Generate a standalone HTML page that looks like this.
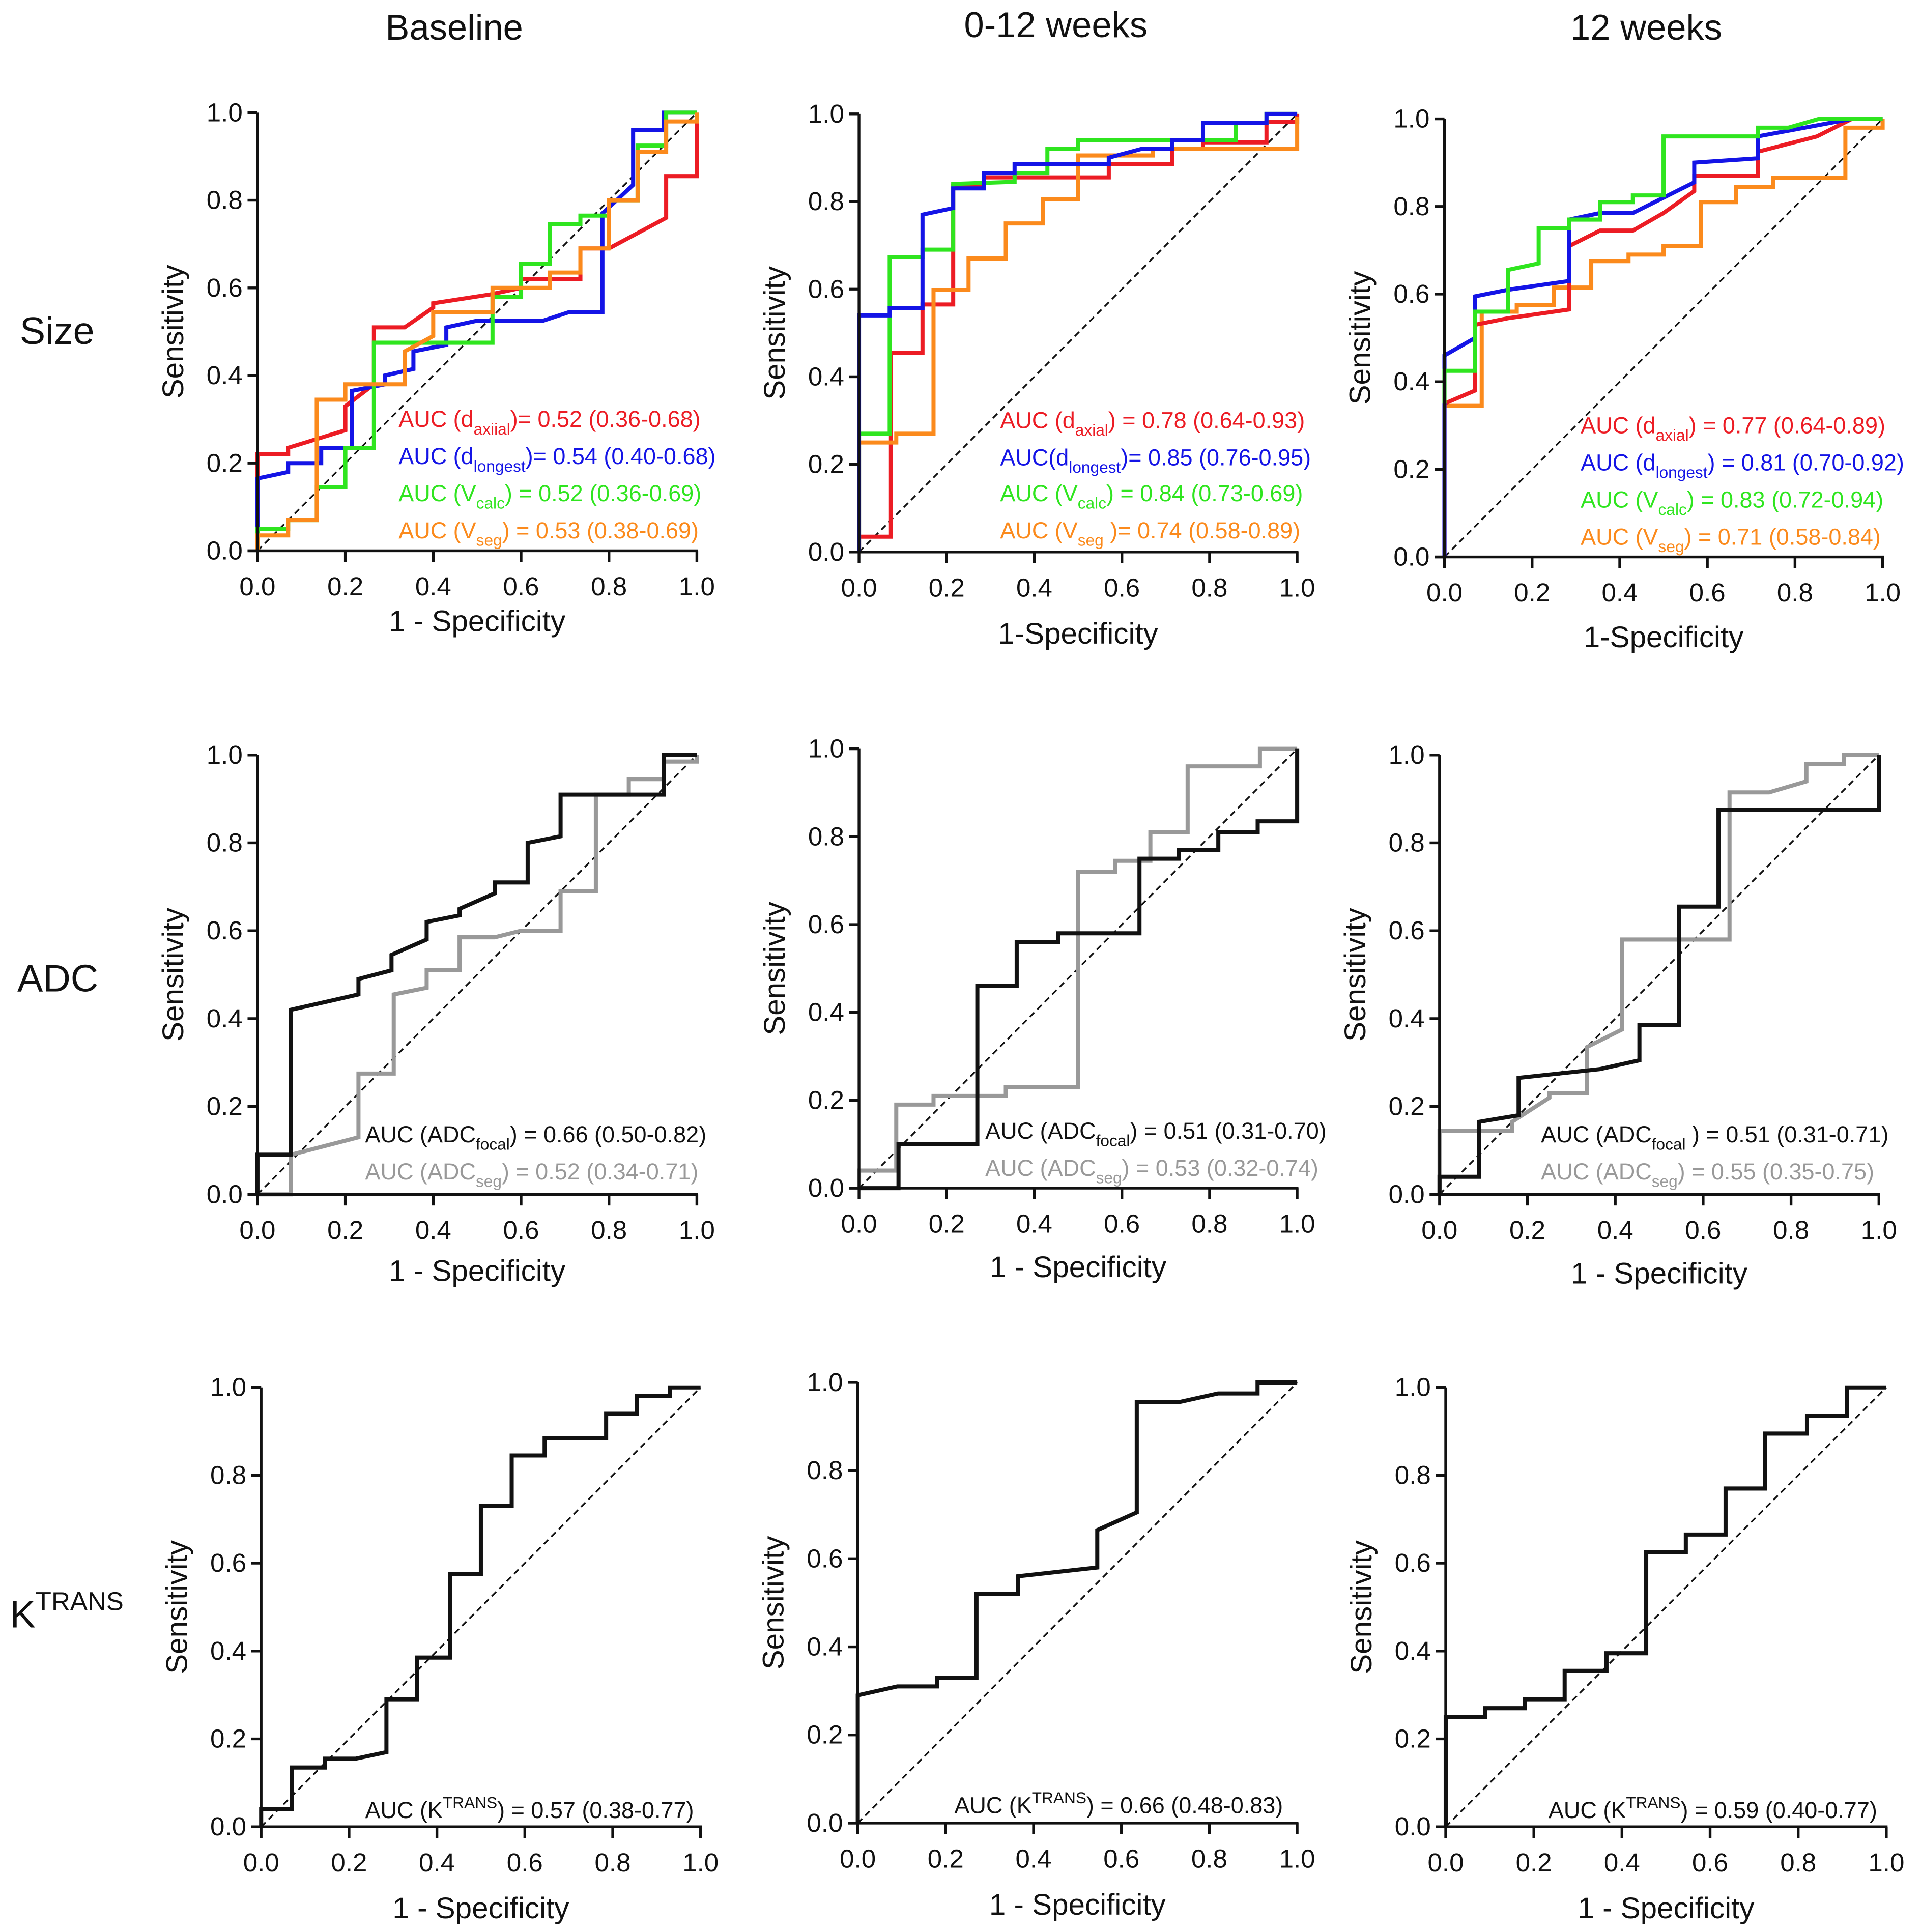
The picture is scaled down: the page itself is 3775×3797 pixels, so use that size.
<!DOCTYPE html>
<html><head><meta charset="utf-8">
<style>
html,body{margin:0;padding:0;background:#fff;}
svg{display:block;}
text{font-family:"Liberation Sans",Arial,sans-serif;fill:#111;}
</style></head>
<body>
<svg id="fig" width="3775" height="3797" viewBox="0 0 1552 1561" xmlns="http://www.w3.org/2000/svg">
<rect width="1552" height="1561" fill="#fff"/>
<text x="367" y="32" font-size="29" text-anchor="middle">Baseline</text>
<text x="853" y="30" font-size="29" text-anchor="middle">0-12 weeks</text>
<text x="1330" y="32" font-size="29" text-anchor="middle">12 weeks</text>
<text x="16" y="278" font-size="31">Size</text>
<text x="14" y="801" font-size="31">ADC</text>
<text x="8" y="1315" font-size="31">K<tspan font-size="21" dy="-14">TRANS</tspan></text>
<g id="panels"></g>
</svg>
<script>
const tickLabels = ["0.0","0.2","0.4","0.6","0.8","1.0"];
const tickValues = [0,0.2,0.4,0.6,0.8,1];

// Row 1: Size
const p11_red_x=[0,0,0.07,0.07,0.2,0.2,0.265,0.265,0.335,0.4,0.4,0.53,0.6,0.6,0.735,0.735,0.8,0.93,0.93,1,1];
const p11_red_y=[0,0.22,0.22,0.235,0.275,0.33,0.38,0.51,0.51,0.555,0.565,0.585,0.6,0.62,0.62,0.69,0.69,0.76,0.855,0.855,1];
const p11_blue_x=[0,0,0.07,0.07,0.145,0.145,0.215,0.215,0.29,0.29,0.355,0.355,0.43,0.43,0.5,0.65,0.71,0.785,0.785,0.855,0.855,0.925,0.925,1];
const p11_blue_y=[0,0.165,0.18,0.2,0.2,0.235,0.235,0.365,0.38,0.4,0.415,0.455,0.47,0.51,0.525,0.525,0.545,0.545,0.77,0.835,0.96,0.96,1,1];
const p11_green_x=[0,0,0.07,0.07,0.135,0.135,0.2,0.2,0.265,0.265,0.535,0.535,0.6,0.6,0.665,0.665,0.735,0.735,0.8,0.8,0.865,0.865,0.93,0.93,1];
const p11_green_y=[0,0.05,0.05,0.07,0.07,0.145,0.145,0.235,0.235,0.475,0.475,0.58,0.58,0.655,0.655,0.745,0.745,0.765,0.765,0.8,0.8,0.925,0.925,1,1];
const p11_orange_x=[0,0,0.07,0.07,0.135,0.135,0.2,0.2,0.335,0.335,0.4,0.4,0.535,0.535,0.665,0.665,0.735,0.735,0.8,0.8,0.865,0.865,0.93,0.93,1,1];
const p11_orange_y=[0,0.035,0.035,0.07,0.07,0.345,0.345,0.38,0.38,0.455,0.49,0.545,0.545,0.6,0.6,0.635,0.635,0.69,0.69,0.8,0.8,0.91,0.91,0.98,0.98,1];

const p12_red_x=[0,0,0.073,0.073,0.145,0.145,0.215,0.215,0.285,0.285,0.57,0.57,0.715,0.715,0.785,0.785,0.93,0.93,1,1];
const p12_red_y=[0,0.035,0.035,0.455,0.455,0.565,0.565,0.835,0.835,0.855,0.855,0.885,0.885,0.92,0.92,0.935,0.935,0.982,0.982,1];
const p12_blue_x=[0,0,0.07,0.07,0.145,0.145,0.215,0.215,0.285,0.285,0.355,0.355,0.57,0.57,0.645,0.715,0.715,0.785,0.785,0.93,0.93,1];
const p12_blue_y=[0,0.54,0.54,0.557,0.557,0.77,0.785,0.83,0.83,0.865,0.865,0.885,0.885,0.9,0.92,0.92,0.94,0.94,0.98,0.98,1,1];
const p12_green_x=[0,0,0.07,0.07,0.145,0.145,0.215,0.215,0.355,0.355,0.43,0.43,0.5,0.5,0.86,0.86,0.93,0.93,1];
const p12_green_y=[0,0.27,0.27,0.673,0.673,0.69,0.69,0.84,0.845,0.865,0.865,0.92,0.92,0.94,0.94,0.98,0.98,1,1];
const p12_orange_x=[0,0,0.085,0.085,0.17,0.17,0.25,0.25,0.335,0.335,0.42,0.42,0.5,0.5,0.67,0.67,1,1];
const p12_orange_y=[0,0.25,0.25,0.27,0.27,0.598,0.598,0.67,0.67,0.75,0.75,0.805,0.805,0.905,0.905,0.92,0.92,0.993];

const p13_red_x=[0,0,0.07,0.07,0.145,0.285,0.285,0.355,0.43,0.5,0.57,0.57,0.715,0.715,0.85,0.93,1];
const p13_red_y=[0,0.35,0.38,0.53,0.545,0.565,0.71,0.745,0.745,0.785,0.835,0.87,0.87,0.925,0.96,1,1];
const p13_blue_x=[0,0,0.07,0.07,0.145,0.285,0.285,0.355,0.43,0.5,0.57,0.57,0.715,0.715,0.85,0.93,1];
const p13_blue_y=[0,0.46,0.5,0.595,0.61,0.63,0.77,0.785,0.785,0.82,0.855,0.9,0.91,0.96,0.985,1,1];
const p13_green_x=[0,0,0.07,0.07,0.145,0.145,0.215,0.215,0.285,0.285,0.355,0.355,0.43,0.43,0.5,0.5,0.715,0.715,0.785,0.855,1];
const p13_green_y=[0.35,0.425,0.425,0.56,0.56,0.655,0.67,0.75,0.75,0.77,0.77,0.81,0.81,0.825,0.825,0.96,0.96,0.98,0.98,1,1];
const p13_orange_x=[0,0,0.085,0.085,0.165,0.165,0.25,0.25,0.335,0.335,0.42,0.42,0.5,0.5,0.585,0.585,0.665,0.665,0.75,0.75,0.915,0.915,1,1];
const p13_orange_y=[0,0.345,0.345,0.56,0.56,0.575,0.575,0.615,0.615,0.675,0.675,0.69,0.69,0.71,0.71,0.81,0.81,0.845,0.845,0.865,0.865,0.98,0.98,1];

// Row 2: ADC
const p21_focal_x=[0,0,0.076,0.076,0.23,0.23,0.305,0.305,0.385,0.385,0.46,0.46,0.54,0.54,0.615,0.615,0.69,0.69,0.925,0.925,1];
const p21_focal_y=[0,0.09,0.09,0.42,0.455,0.49,0.51,0.545,0.58,0.62,0.635,0.65,0.685,0.71,0.71,0.8,0.815,0.91,0.91,1,1];
const p21_seg_x=[0,0.076,0.076,0.23,0.23,0.31,0.31,0.385,0.385,0.46,0.46,0.54,0.6,0.69,0.69,0.77,0.77,0.845,0.845,0.925,0.925,1,1];
const p21_seg_y=[0,0,0.09,0.13,0.275,0.275,0.455,0.47,0.51,0.51,0.585,0.585,0.6,0.6,0.69,0.69,0.91,0.91,0.945,0.945,0.985,0.985,1];
const p22_focal_x=[0,0.09,0.09,0.27,0.27,0.36,0.36,0.455,0.455,0.64,0.64,0.73,0.73,0.82,0.82,0.91,0.91,1,1];
const p22_focal_y=[0,0,0.1,0.1,0.46,0.46,0.56,0.56,0.58,0.58,0.75,0.75,0.77,0.77,0.81,0.81,0.835,0.835,1];
const p22_seg_x=[0,0,0.085,0.085,0.17,0.17,0.335,0.335,0.5,0.5,0.585,0.585,0.665,0.665,0.75,0.75,0.915,0.915,1];
const p22_seg_y=[0,0.04,0.04,0.19,0.19,0.21,0.21,0.23,0.23,0.72,0.72,0.745,0.745,0.81,0.81,0.96,0.96,1,1];
const p23_focal_x=[0,0,0.09,0.09,0.18,0.18,0.365,0.455,0.455,0.545,0.545,0.635,0.635,1,1];
const p23_focal_y=[0,0.04,0.04,0.165,0.18,0.265,0.285,0.305,0.385,0.385,0.655,0.655,0.875,0.875,1];
const p23_seg_x=[0,0,0.165,0.165,0.25,0.25,0.335,0.335,0.415,0.415,0.66,0.66,0.75,0.835,0.835,0.92,0.92,1];
const p23_seg_y=[0,0.145,0.145,0.165,0.22,0.23,0.23,0.335,0.375,0.58,0.58,0.915,0.915,0.94,0.98,0.98,1,1];

// Row 3: KTRANS
const p31_x=[0,0,0.07,0.07,0.145,0.145,0.215,0.285,0.285,0.355,0.355,0.43,0.43,0.5,0.5,0.57,0.57,0.645,0.645,0.785,0.785,0.855,0.855,0.93,0.93,1];
const p31_y=[0,0.04,0.04,0.135,0.135,0.155,0.155,0.17,0.29,0.29,0.385,0.385,0.575,0.575,0.73,0.73,0.845,0.845,0.885,0.885,0.94,0.94,0.98,0.98,1,1];
const p32_x=[0,0,0.09,0.18,0.18,0.27,0.27,0.365,0.365,0.545,0.545,0.635,0.635,0.73,0.82,0.91,0.91,1];
const p32_y=[0,0.29,0.31,0.31,0.33,0.33,0.52,0.52,0.56,0.58,0.665,0.705,0.955,0.955,0.975,0.975,1,1];
const p33_x=[0,0,0.09,0.09,0.18,0.18,0.27,0.27,0.365,0.365,0.455,0.455,0.545,0.545,0.635,0.635,0.725,0.725,0.82,0.82,0.91,0.91,1];
const p33_y=[0,0.25,0.25,0.27,0.27,0.29,0.29,0.355,0.355,0.395,0.395,0.625,0.625,0.665,0.665,0.77,0.77,0.895,0.895,0.935,0.935,1,1];

const RED="#ec1c24", BLUE="#1414e6", GREEN="#2fe51f", ORANGE="#fb8a1c", GRAY="#999999", BLACK="#111111";
const NS="http://www.w3.org/2000/svg";
const root=document.getElementById('panels');

function mk(tag, attrs, parent){
  const e=document.createElementNS(NS,tag);
  for(const k in attrs) e.setAttribute(k,attrs[k]);
  (parent||root).appendChild(e);
  return e;
}

const panels=[
 {id:"size-baseline",x0:208,x1:563,yt:91,yb:445,xt:"1 - Specificity",xty:510,
  series:[[p11_red_x,p11_red_y,RED,"red-d-axial"],[p11_blue_x,p11_blue_y,BLUE,"blue-d-longest"],[p11_green_x,p11_green_y,GREEN,"green-v-calc"],[p11_orange_x,p11_orange_y,ORANGE,"orange-v-seg"]],
  leg:{x:322,y:[345,375,405,435],items:[[RED,"AUC (d","axiial",")= 0.52 (0.36-0.68)"],[BLUE,"AUC (d","longest",")= 0.54 (0.40-0.68)"],[GREEN,"AUC (V","calc",") = 0.52 (0.36-0.69)"],[ORANGE,"AUC (V","seg",") = 0.53 (0.38-0.69)"]]}},
 {id:"size-0-12",x0:694,x1:1048,yt:92,yb:446,xt:"1-Specificity",xty:520,
  series:[[p12_red_x,p12_red_y,RED,"red-d-axial"],[p12_green_x,p12_green_y,GREEN,"green-v-calc"],[p12_orange_x,p12_orange_y,ORANGE,"orange-v-seg"],[p12_blue_x,p12_blue_y,BLUE,"blue-d-longest"]],
  leg:{x:808,y:[346,376,405,435],items:[[RED,"AUC (d","axial",") = 0.78 (0.64-0.93)"],[BLUE,"AUC(d","longest",")= 0.85 (0.76-0.95)"],[GREEN,"AUC (V","calc",") = 0.84 (0.73-0.69)"],[ORANGE,"AUC (V","seg"," )= 0.74 (0.58-0.89)"]]}},
 {id:"size-12",x0:1167,x1:1521,yt:96,yb:450,xt:"1-Specificity",xty:523,
  series:[[p13_orange_x,p13_orange_y,ORANGE,"orange-v-seg"],[p13_red_x,p13_red_y,RED,"red-d-axial"],[p13_blue_x,p13_blue_y,BLUE,"blue-d-longest"],[p13_green_x,p13_green_y,GREEN,"green-v-calc"]],
  leg:{x:1277,y:[350,380,410,440],items:[[RED,"AUC (d","axial",") = 0.77 (0.64-0.89)"],[BLUE,"AUC (d","longest",") = 0.81 (0.70-0.92)"],[GREEN,"AUC (V","calc",") = 0.83 (0.72-0.94)"],[ORANGE,"AUC (V","seg",") = 0.71 (0.58-0.84)"]]}},
 {id:"adc-baseline",x0:208,x1:563,yt:610,yb:965,xt:"1 - Specificity",xty:1035,
  series:[[p21_seg_x,p21_seg_y,GRAY,"gray-adc-seg"],[p21_focal_x,p21_focal_y,BLACK,"black-adc-focal"]],
  leg:{x:295,y:[923,953],items:[[BLACK,"AUC (ADC","focal",") = 0.66 (0.50-0.82)"],[GRAY,"AUC (ADC","seg",") = 0.52 (0.34-0.71)"]]}},
 {id:"adc-0-12",x0:694,x1:1048,yt:605,yb:960,xt:"1 - Specificity",xty:1032,
  series:[[p22_seg_x,p22_seg_y,GRAY,"gray-adc-seg"],[p22_focal_x,p22_focal_y,BLACK,"black-adc-focal"]],
  leg:{x:796,y:[920,950],items:[[BLACK,"AUC (ADC","focal",") = 0.51 (0.31-0.70)"],[GRAY,"AUC (ADC","seg",") = 0.53 (0.32-0.74)"]]}},
 {id:"adc-12",x0:1163,x1:1518,yt:610,yb:965,xt:"1 - Specificity",xty:1037,
  series:[[p23_seg_x,p23_seg_y,GRAY,"gray-adc-seg"],[p23_focal_x,p23_focal_y,BLACK,"black-adc-focal"]],
  leg:{x:1245,y:[923,953],items:[[BLACK,"AUC (ADC","focal"," ) = 0.51 (0.31-0.71)"],[GRAY,"AUC (ADC","seg",") = 0.55 (0.35-0.75)"]]}},
 {id:"ktrans-baseline",x0:211,x1:566,yt:1121,yb:1476,xt:"1 - Specificity",xty:1550,
  series:[[p31_x,p31_y,BLACK,"black-ktrans"]],
  leg:{x:295,y:[1469],sup:true,items:[[BLACK,"AUC (K","TRANS",") = 0.57 (0.38-0.77)"]]}},
 {id:"ktrans-0-12",x0:693,x1:1048,yt:1117,yb:1473,xt:"1 - Specificity",xty:1547,
  series:[[p32_x,p32_y,BLACK,"black-ktrans"]],
  leg:{x:771,y:[1465],sup:true,items:[[BLACK,"AUC (K","TRANS",") = 0.66 (0.48-0.83)"]]}},
 {id:"ktrans-12",x0:1168,x1:1524,yt:1121,yb:1476,xt:"1 - Specificity",xty:1550,
  series:[[p33_x,p33_y,BLACK,"black-ktrans"]],
  leg:{x:1251,y:[1469],sup:true,items:[[BLACK,"AUC (K","TRANS",") = 0.59 (0.40-0.77)"]]}}
];

panels.forEach(p=>{
  const g=mk('g',{});
  
  
  const sx=v=>p.x0+v*(p.x1-p.x0);
  const sy=v=>p.yb-v*(p.yb-p.yt);
  const d=mk('line',{x1:sx(0),y1:sy(0),x2:sx(1),y2:sy(1),stroke:"#111","stroke-width":1.4,"stroke-dasharray":"5,3.5"},g);
  
  
  p.series.forEach(s=>{
    const pts=s[0].map((xv,i)=>sx(xv).toFixed(1)+","+sy(s[1][i]).toFixed(1)).join(" ");
    const pl=mk('polyline',{points:pts,fill:"none",stroke:s[2],"stroke-width":3.3,"stroke-linejoin":"miter"},g);
    
    
  });
  const ya=mk('line',{x1:p.x0,y1:p.yt,x2:p.x0,y2:p.yb,stroke:"#111","stroke-width":2.2},g);
  
  
  const xa=mk('line',{x1:p.x0-8,y1:p.yb,x2:p.x1+1,y2:p.yb,stroke:"#111","stroke-width":2.2},g);
  
  
  tickValues.forEach((t,i)=>{
    const yt=mk('line',{x1:p.x0-8,y1:sy(t),x2:p.x0,y2:sy(t),stroke:"#111","stroke-width":2.2},g);
    
    
    const xt=mk('line',{x1:sx(t),y1:p.yb,x2:sx(t),y2:p.yb+9,stroke:"#111","stroke-width":2.2},g);
    
    
    const yl=mk('text',{x:p.x0-12,y:sy(t)+7,"font-size":21,"text-anchor":"end"},g);
    yl.textContent=tickLabels[i];
    
    
    const xl=mk('text',{x:sx(t),y:p.yb+36,"font-size":21,"text-anchor":"middle"},g);
    xl.textContent=tickLabels[i];
    
    
  });
  const yT=mk('text',{x:0,y:0,"font-size":24,"text-anchor":"middle",transform:`translate(${p.x0-60},${(p.yt+p.yb)/2}) rotate(-90)`},g);
  yT.textContent="Sensitivity";
  
  
  const xT=mk('text',{x:(p.x0+p.x1)/2,y:p.xty,"font-size":24,"text-anchor":"middle"},g);
  xT.textContent=p.xt;
  
  
  p.leg.items.forEach((it,i)=>{
    const t=mk('text',{x:p.leg.x,y:p.leg.y[i],"font-size":18.5},g);
    t.style.fill=it[0];
    
    
    const a=mk('tspan',{},t); a.textContent=it[1];
    const b=mk('tspan',{"font-size":13,dy:p.leg.sup?-8:6},t); b.textContent=it[2];
    const c=mk('tspan',{dy:p.leg.sup?8:-6},t); c.textContent=it[3];
  });
});
</script>
</body></html>
